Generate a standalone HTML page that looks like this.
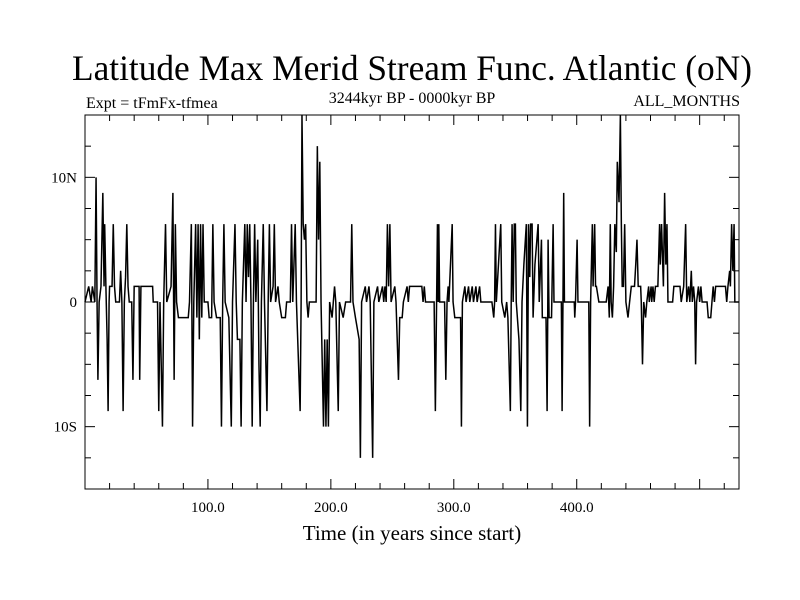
<!DOCTYPE html>
<html><head><meta charset="utf-8"><style>
body{margin:0;background:#fff}
svg{display:block;font-family:"Liberation Serif",serif}
</style></head><body>
<svg id="chart" width="800" height="600">
<rect width="800" height="600" fill="#fff"/>
<text x="72" y="80" font-size="36" textLength="680" lengthAdjust="spacingAndGlyphs">Latitude Max Merid Stream Func. Atlantic (oN)</text>
<text x="86" y="108" font-size="16">Expt = tFmFx-tfmea</text>
<text x="412" y="103" font-size="16" text-anchor="middle">3244kyr BP - 0000kyr BP</text>
<text x="740" y="106" font-size="16" text-anchor="end">ALL_MONTHS</text>
<text x="412" y="540" font-size="21" text-anchor="middle">Time (in years since start)</text>
<g id="axes"></g>
<path id="series" fill="none" stroke="#000" stroke-width="1.5" stroke-linejoin="miter"/>
<rect x="85" y="115" width="654" height="374" fill="none" stroke="#000" stroke-width="1"/>
</svg>
<script>
const years=[0,3,5,6,8,9,9.8,10.5,11.5,13,14.5,15.5,16,17,18,18.8,19.6,20,22,23,24,25,28,29,30,31,32,33,34,35,36,38,39,40,40.5,44,44.5,45.5,55,55.5,59,60,61,63,64,65.5,66.5,70,71.5,72.5,73.5,74.5,76,84,85,86.5,87.5,88.5,90,91,92,93,94,95,96,97,100,101,103,104,105,107,110,111,112,113,114,117,119,120,122,123,124,126,127,128,130,131,132,133,134,135,136,137,
138,139,140.5,141.5,142.5,143.5,145,146,148,149,150,151,153,154,155,157,158,160,163,164,167,168,169,171,172,175,175.8,176.5,177.5,178.5,179.5,180.5,181.5,182.5,188,189,190,191,192,194,195,196,197,198,199,201,203,204,206,207,210,212,216,217,218,220,223,224,225,228,229,231,232,234,235,238,239,242,243,244,245,246,247,248,249,252,253,255,256,258,259,262,263,264,274,275,
276,277,284,285,286,286.7,287.3,287.8,288.5,292.5,293.5,294.5,295.4,296,298.7,299.4,300.8,302,305.5,306.2,307,309,310,312,313,315,316,318,319,321,322,331,332.5,333.2,333.9,334.6,338.2,339,341.5,343,344,346,346.7,347.4,348.3,349.2,350.1,350.8,353,354.5,355.5,357,359,359.9,360.8,361.8,362.5,363.7,364.5,366,368.6,369.5,371.3,372,375,375.9,376.4,376.7,377.5,379.5,380.8,381.5,387.5,388.1,388.8,389.4,390,398,398.4,399,400.3,401,409.8,
410.5,411.3,412.7,413.3,414.6,415.3,416,418,424,425.5,426.5,427.3,428,429,430,431,432.2,433,434.4,435.5,436.3,437,438,439,440,441.7,443,444.4,447,448,449,450,452,452.5,453.5,454.5,456,457,458.5,459,460.5,461,462,463,464,466,467.4,468,469,470.5,471.5,472.5,473.4,474.2,478,479,484,485,487,488.6,489.5,491,492,493.2,494,495,496,496.7,497.5,499,500,501,502,506,507,509,510,511,512,513,521,522,523,524.4,525,526,527,528,528.6,532];
const vals=[0,1.25,0,1.25,0,10,0,-6.25,0,1.25,8.75,1.25,6.25,1.25,-3,-8.75,0,1.25,1.25,6.25,1.25,0,0,2.5,0,-8.75,0,2,6.25,1.25,0,0,-6.25,1.25,1.25,1.25,-6.25,1.25,1.25,0,0,-8.75,0,-10,0,6.25,0,1.25,8.75,-6.25,6.25,0,-1.25,-1.25,0,6.25,-10,0,6.25,-1.25,6.25,-3,6.25,-1.25,6.25,0,0,-1.25,-1.25,6.25,0,-1.25,-1.25,-10,0,6.25,0,-1.25,-10,0,6.25,0,-3,-3,-10,0,6.25,0,6.25,2,6.25,0,-10,0,
6.25,0,5,-5,-10,0,6.25,0,-8.75,0,6.25,0,1.25,6.25,0,1.25,0,-1.25,-1.25,0,0,6.25,0,6.25,0,-8.75,0,15,6.25,5,6.25,0,-1.25,0,0,12.5,5,11.25,0,-10,-3,-10,-3,-10,0,-1.25,1.25,0,-8.75,0,-1.25,0,0,6.25,0,-1.25,-3,-12.5,0,1.25,0,1.25,0,-12.5,0,1.25,0,1.25,0,1.25,0,6.25,1.25,6.25,0,1.25,0,-6.25,-1.25,-1.25,0,1.25,0,1.25,1.25,0,
1.25,0,0,-8.75,0,6.25,0,6.25,0,0,-6.25,0,1.25,0,6.25,0,-1.25,-1.25,-1.25,-10,0,1.25,0,1.25,0,1.25,0,1.25,0,1.25,0,0,-1.25,0,6.25,0,6.25,0,-1.25,0,-1.25,-8.75,0,6.25,0,6.25,6.25,0,-3,-8.75,0,3,6.25,-10,6.25,2,6.25,6.25,-1.25,3,6.25,0,5,-1.25,-1.25,-8.75,-1.25,5,-1.25,-1.25,6.25,0,0,-8.75,0,8.75,0,0,-1.25,0,5,0,0,
-10,0,6.25,1.25,6.25,1.25,1.25,0,0,1.25,-1.25,6.25,0,-1.25,1.25,6.25,4,11.25,8,15,6.25,1.25,1.25,6.25,0,-1.25,0,1.25,1.25,3,5,1.25,1.25,0,-5,0,-1.25,0,1.25,0,1.25,0,1.25,0,1.25,1.25,6.25,3,6.25,1.25,8.75,3,6.25,0,0,1.25,1.25,0,1.25,6.25,0,1.25,0,2.5,0,1.25,0,-5,0,1.25,0,1.25,0,0,-1.25,-1.25,0,1.25,0,1.25,1.25,0,1.25,2.5,1.25,6.25,2.5,6.25,0,0];
const yTickVals=[10,0,-10];
const yTickLabels=["10N","0","10S"];
const xTickVals=[100,200,300,400];
const xTickLabels=["100.0","200.0","300.0","400.0"];
const X0=85,X1=739,Y0=115,Y1=489,XMIN=0,XMAX=532,YMIN=-15,YMAX=15;
function sx(v){return X0+(v-XMIN)/(XMAX-XMIN)*(X1-X0);}
function sy(v){return Y1-(v-YMIN)/(YMAX-YMIN)*(Y1-Y0);}
const NS="http://www.w3.org/2000/svg";
const axes=document.getElementById('axes');
function line(x1,y1,x2,y2,name){const l=document.createElementNS(NS,'line');l.setAttribute('x1',x1);l.setAttribute('y1',y1);l.setAttribute('x2',x2);l.setAttribute('y2',y2);l.setAttribute('stroke','#000');l.setAttribute('stroke-width','1');


axes.appendChild(l);}
function text(x,y,s,anchor,name){const t=document.createElementNS(NS,'text');t.setAttribute('x',x);t.setAttribute('y',y);t.setAttribute('font-size','15');t.setAttribute('text-anchor',anchor);t.textContent=s;


axes.appendChild(t);}
for(let v=-15;v<=15;v+=2.5){const y=sy(v);const maj=Math.abs(v%10)<1e-9;const L=maj?10:6;line(X0,y,X0+L,y,'y-tick');line(X1-L,y,X1,y,'y-tick-right');}
for(let v=20;v<XMAX;v+=20){const x=sx(v);const L=(v%100===0)?10:6;line(x,Y1,x,Y1-L,'x-tick');line(x,Y0,x,Y0+L,'x-tick-top');}
yTickVals.forEach((v,i)=>text(X0-8,sy(v)+5,yTickLabels[i],'end','y-tick-label'));
xTickVals.forEach((v,i)=>text(sx(v),Y1+23,xTickLabels[i],'middle','x-tick-label'));
let d='';years.forEach((yr,i)=>{d+=(i?'L':'M')+sx(yr).toFixed(2)+','+sy(vals[i]).toFixed(2);});
document.getElementById('series').setAttribute('d',d);
</script>
</body></html>
